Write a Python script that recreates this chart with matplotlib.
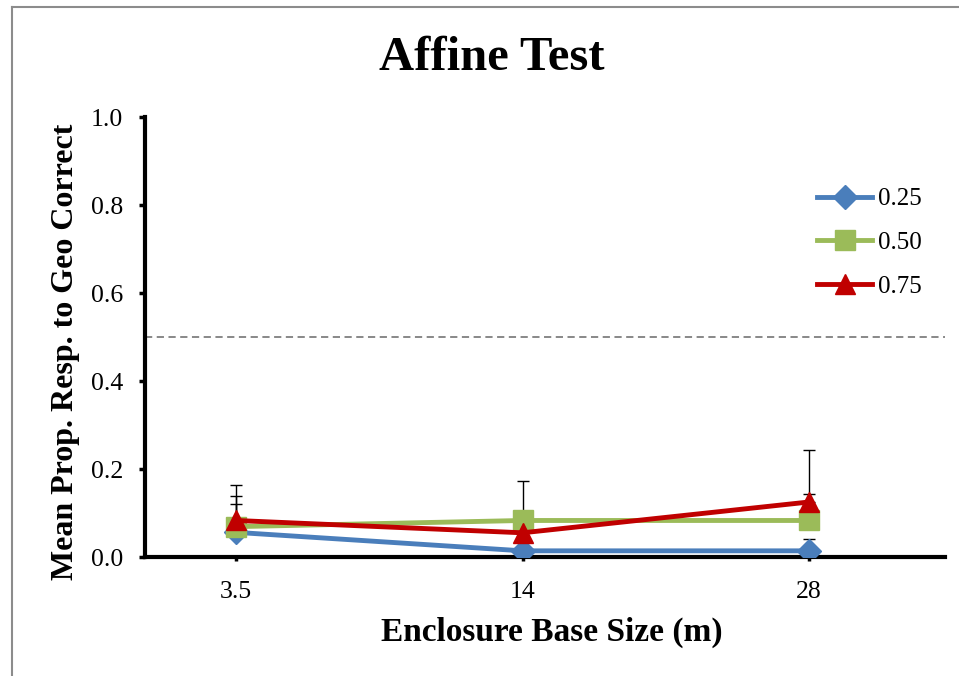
import matplotlib
matplotlib.use('Agg')
import matplotlib.pyplot as plt
from matplotlib.lines import Line2D

plt.rcParams['font.family'] = ['Liberation Serif', 'DejaVu Serif']

categories = ['3.5', '14', '28']
series_labels = ['0.25', '0.50', '0.75']
mean_025 = [0.056, 0.014, 0.014]
mean_050 = [0.069, 0.083, 0.083]
mean_075 = [0.083, 0.055, 0.125]
err_025 = [0.064, 0.010, 0.027]
err_050 = [0.070, 0.090, 0.060]
err_075 = [0.081, 0.030, 0.118]
chance = 0.5

fig = plt.figure(figsize=(9.59, 6.76), dpi=100)
W, H = 959, 676
ax = fig.add_axes([145 / W, (H - 557) / H, (945 - 145) / W, (557 - 117) / H])

# chart border (left and top visible)
fig.add_artist(Line2D([12 / W, 12 / W], [0, 1 - 7 / H], transform=fig.transFigure,
                      color='#8c8c8c', lw=1.5))
fig.add_artist(Line2D([12 / W, 1], [1 - 7 / H, 1 - 7 / H], transform=fig.transFigure,
                      color='#8c8c8c', lw=1.5))

x = list(range(len(categories)))
styles = [
    (mean_025, err_025, '#4a7ebb', 'D', 12),
    (mean_050, err_050, '#9bbb59', 's', 14),
    (mean_075, err_075, '#c00000', '^', 15),
]

ax.axhline(chance, color='#7f7f7f', lw=1.3, ls=(0, (4, 2.5)), zorder=1)

for (m, e, c, mk, ms), lab in zip(styles, series_labels):
    ax.errorbar(x, m, yerr=[[0] * len(e), e], fmt='none', ecolor='black',
                elinewidth=1, capsize=4.5, capthick=1, zorder=2)
for (m, e, c, mk, ms), lab in zip(styles, series_labels):
    ax.plot(x, m, color=c, lw=3.5, marker=mk, markersize=ms, label=lab, zorder=3)

ax.set_xlim(-0.318, 2.475)
ax.set_ylim(0, 1.0)
ax.set_xticks(x)
ax.set_xticklabels(categories)
ax.set_yticks([0, 0.2, 0.4, 0.6, 0.8, 1.0])
ax.set_yticklabels(['0.0', '0.2', '0.4', '0.6', '0.8', '1.0'])
ax.tick_params(labelsize=18.5, width=2.5, direction='out')
ax.tick_params(axis='y', length=4, pad=12)
ax.tick_params(axis='x', length=3, pad=14)

for s in ['top', 'right']:
    ax.spines[s].set_visible(False)
for s in ['left', 'bottom']:
    ax.spines[s].set_linewidth(3)

ax.set_xlabel('Enclosure Base Size (m)', fontsize=24, fontweight='bold')
ax.xaxis.label.set_va('center')
ax.xaxis.set_label_coords((552 - 145) / 800, (557 - 632) / 440)
ax.set_ylabel('Mean Prop. Resp. to Geo Correct', fontsize=23, fontweight='bold')
ax.yaxis.label.set_va('center')
ax.yaxis.set_label_coords((66 - 145) / 800, (557 - 352) / 440)
fig.text(492 / W, 1 - 58 / H, 'Affine Test', fontsize=35, fontweight='bold',
         ha='center', va='center')

ax.legend(loc='upper left', bbox_to_anchor=(0.812, 0.89), frameon=False,
          fontsize=18, handlelength=2.2, labelspacing=0.85, handletextpad=0.25)

fig.savefig('out.png', dpi=100)
